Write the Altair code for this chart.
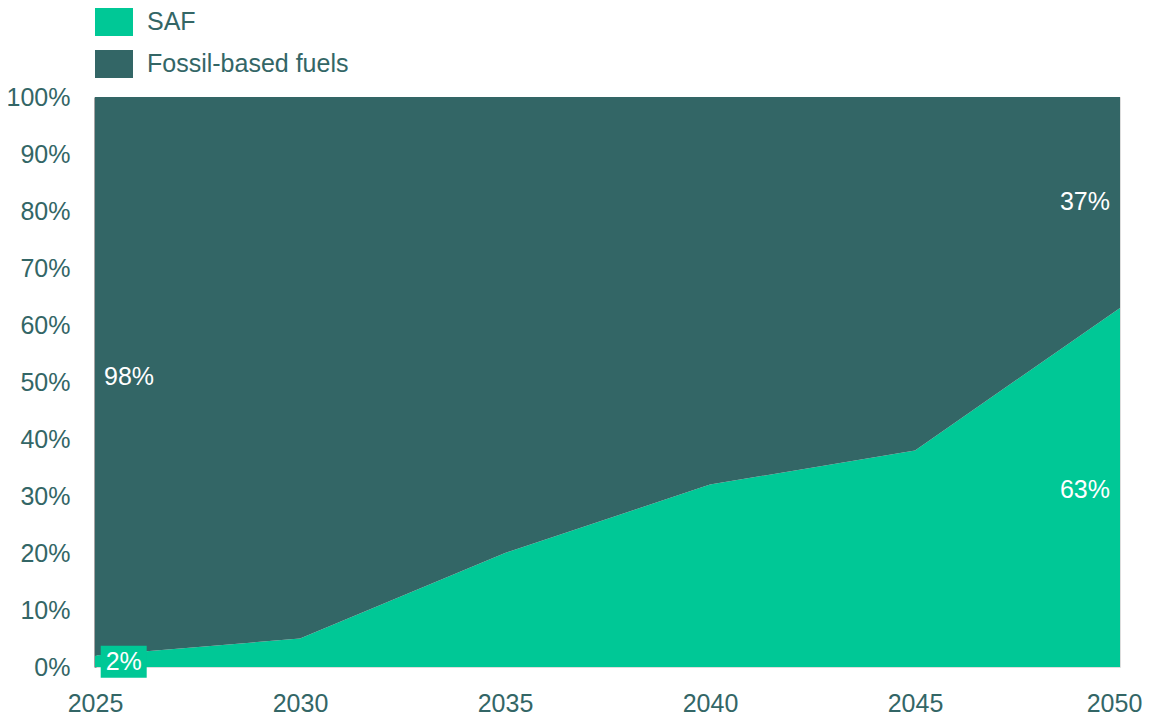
import altair as alt
import pandas as pd

years = [2025, 2030, 2035, 2040, 2045, 2050]
saf = [2, 5, 20, 32, 38, 63]
fossil = [98, 95, 80, 68, 62, 37]
series = ["SAF", "Fossil-based fuels"]
colors = ["#00C896", "#336666"]
text_color = "#336666"
fs = 25

rows = []
for i, yr in enumerate(years):
    rows.append({"year": yr, "series": series[0], "share": saf[i], "order": 0})
    rows.append({"year": yr, "series": series[1], "share": fossil[i], "order": 1})
df = pd.DataFrame(rows)

# annotation labels
left_labels = pd.DataFrame({"year": [2025.22], "val": [50.9], "text": ["98%"]})
right_labels = pd.DataFrame({"year": [2050, 2050], "val": [81.6, 31.0], "text": ["37%", "63%"]})
box_label = pd.DataFrame({"year": [2025.7], "val": [0.9], "text": ["2%"]})

x_scale = alt.Scale(domain=[2025, 2050], nice=False, zero=False)
y_scale = alt.Scale(domain=[0, 100], nice=False)

area = alt.Chart(df).mark_area(opacity=1).encode(
    x=alt.X("year:Q", scale=x_scale,
            axis=alt.Axis(values=years, format="d", title=None, labelFontSize=fs,
                          labelColor=text_color, labelPadding=24, domain=False,
                          ticks=False, grid=False, labelFlush=False,
                          labelOffset={"condition": {"test": "datum.value == 2050", "value": -6},
                                       "value": 0})),
    y=alt.Y("share:Q", stack="zero", scale=y_scale,
            axis=alt.Axis(values=list(range(0, 101, 10)), labelExpr="datum.value + '%'",
                          title=None, labelFontSize=fs, labelColor=text_color,
                          labelPadding=25, ticks=False, grid=False, domain=True,
                          domainColor="#4d4d4d", domainWidth=2)),
    color=alt.Color("series:N", scale=alt.Scale(domain=series, range=colors),
                    legend=alt.Legend(orient="none", legendX=0, legendY=-94, title=None,
                                      symbolType="M-1,-0.737L1,-0.737L1,0.737L-1,0.737Z",
                                      symbolSize=1444, labelFontSize=fs, labelColor=text_color,
                                      labelOffset=14, rowPadding=8, symbolStrokeWidth=0,
                                      symbolOpacity=1, labelLimit=0,
                                      labelFont="Liberation Sans")),
    order=alt.Order("order:Q"),
)

t_left = alt.Chart(left_labels).mark_text(align="left", baseline="middle", fontSize=fs,
                                          color="white").encode(
    x=alt.X("year:Q", scale=x_scale), y=alt.Y("val:Q", scale=y_scale), text="text:N")

t_right = alt.Chart(right_labels).mark_text(align="right", baseline="middle", fontSize=fs,
                                            color="white", dx=-10).encode(
    x=alt.X("year:Q", scale=x_scale), y=alt.Y("val:Q", scale=y_scale), text="text:N")

box = alt.Chart(box_label).mark_rect(width=46, height=32, color=colors[0]).encode(
    x=alt.X("year:Q", scale=x_scale), y=alt.Y("val:Q", scale=y_scale))

t_box = alt.Chart(box_label).mark_text(align="center", baseline="middle", fontSize=fs,
                                       color="white").encode(
    x=alt.X("year:Q", scale=x_scale), y=alt.Y("val:Q", scale=y_scale), text="text:N")

chart = alt.layer(area, t_left, t_right, box, t_box).properties(
    width=1025, height=570, autosize="none",
    padding={"left": 87, "top": 89, "right": 23, "bottom": 50},
).configure_view(stroke=None).configure(font="Liberation Sans")

chart.save("out.html", embed_options={"renderer": "svg", "actions": False})
